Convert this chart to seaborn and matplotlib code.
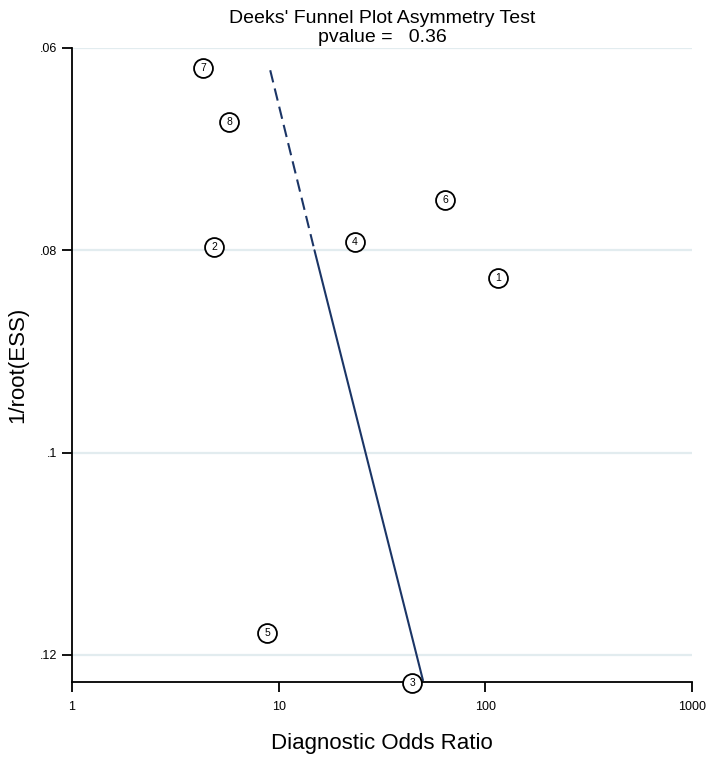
import matplotlib
matplotlib.use("Agg")
import matplotlib.pyplot as plt
import numpy as np
import pandas as pd
import seaborn as sns

# Study points
study = ["1", "2", "3", "4", "5", "6", "7", "8"]
dor = [115, 4.86, 44.2, 23.4, 8.8, 63.8, 4.3, 5.75]
inv_root_ess = [0.0827, 0.0797, 0.1228, 0.0792, 0.1178, 0.0750, 0.0620, 0.0673]

# Regression line, dashed part then solid part
dash_x = [9.1, 14.9]
dash_y = [0.0622, 0.0800]
solid_x = [14.9, 49.9]
solid_y = [0.0800, 0.1225]

y_ticks = [0.06, 0.08, 0.10, 0.12]
y_labels = [".06", ".08", ".1", ".12"]
x_ticks = [1, 10, 100, 1000]
x_labels = ["1", "10", "100", "1000"]

df = pd.DataFrame({"study": study, "dor": dor, "ess": inv_root_ess})

sns.set_style("white")
plt.rcParams['font.family'] = ['Liberation Sans', 'DejaVu Sans']
plt.rcParams['text.color'] = 'black'
plt.rcParams['axes.labelcolor'] = 'black'
plt.rcParams['xtick.color'] = 'black'
plt.rcParams['ytick.color'] = 'black'

fig = plt.figure(figsize=(7.09, 7.57), dpi=100)
ax = fig.add_axes([0.1016, 0.0991, 0.8744, 0.8375])

for t in y_ticks:
    ax.axhline(t, color="#e2ecef", lw=1.6, zorder=0)

sns.lineplot(x=dash_x, y=dash_y, ax=ax, color="#1b3566", lw=1.5,
             dashes=False, sort=False, zorder=2)
ax.lines[-1].set_dashes([6, 3])
sns.lineplot(x=solid_x, y=solid_y, ax=ax, color="#1b3566", lw=1.5, sort=False, zorder=2)

sns.scatterplot(data=df, x="dor", y="ess", ax=ax, s=185, marker="o",
                facecolor="white", edgecolor="black", linewidth=1.3, zorder=3, clip_on=False)
for _, r in df.iterrows():
    ax.text(r["dor"], r["ess"], r["study"], ha="center", va="center",
            fontsize=7.5, zorder=4, clip_on=False)

ax.set_xscale("log")
ax.set_xlim(1, 1000)
ax.set_ylim(0.12267, 0.06)
ax.set_xticks(x_ticks)
ax.set_xticklabels(x_labels)
ax.xaxis.set_minor_locator(matplotlib.ticker.NullLocator())
ax.set_yticks(y_ticks)
ax.set_yticklabels(y_labels)

for s in ["top", "right"]:
    ax.spines[s].set_visible(False)
for s in ["left", "bottom"]:
    ax.spines[s].set_color("black")
    ax.spines[s].set_linewidth(1.3)

ax.tick_params(axis="both", direction="out", length=7, width=1.3, color="black",
               labelsize=9, left=True, bottom=True)
ax.tick_params(axis="x", pad=7)
ax.tick_params(axis="y", pad=4)

ax.set_xlabel("Diagnostic Odds Ratio", fontsize=16, labelpad=14)
ax.set_ylabel("1/root(ESS)", fontsize=16, labelpad=8)
ax.set_title("Deeks' Funnel Plot Asymmetry Test\npvalue =   0.36", fontsize=14,
             linespacing=1.2, pad=4)

fig.savefig("out.png", dpi=100)
